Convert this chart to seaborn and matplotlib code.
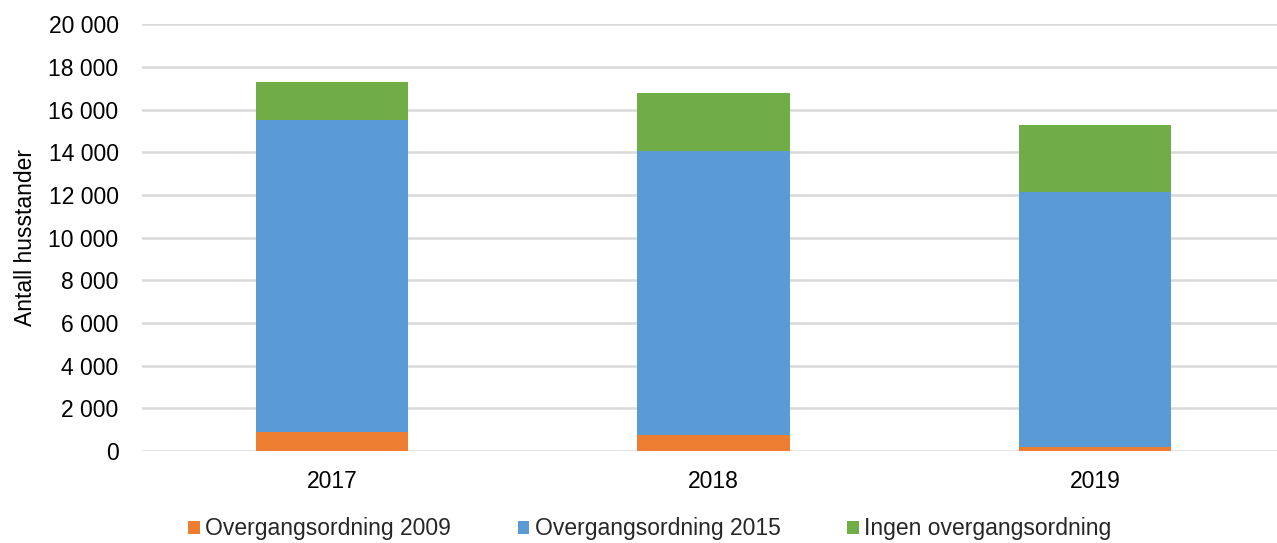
import matplotlib
matplotlib.use("Agg")
import matplotlib.pyplot as plt
import matplotlib.ticker as mticker
from matplotlib.patches import Patch
import seaborn as sns
import pandas as pd
import numpy as np

years = ["2017", "2018", "2019"]
series_names = ["Overgangsordning 2009", "Overgangsordning 2015", "Ingen overgangsordning"]
ovg_2009 = [890, 770, 200]
ovg_2015 = [14610, 13280, 11930]
ingen = [1780, 2720, 3140]
colors = ["#ED7D31", "#5B9BD5", "#70AD47"]
y_ticks = [0, 2000, 4000, 6000, 8000, 10000, 12000, 14000, 16000, 18000, 20000]

sns.set_theme(style="white")
plt.rcParams["font.family"] = ["Liberation Sans", "DejaVu Sans"]

fig = plt.figure(figsize=(12.77, 5.43), dpi=100)
ax = fig.add_axes([141.5 / 1277, 92 / 543, 1144 / 1277, (451 - 24.3) / 543])

stack = np.cumsum(np.array([ovg_2009, ovg_2015, ingen]), axis=0)
# draw tallest first so lower segments overlay
for i in [2, 1, 0]:
    df = pd.DataFrame({"year": years, "value": stack[i]})
    sns.barplot(data=df, x="year", y="value", color=colors[i], width=0.4,
                saturation=1, ax=ax, edgecolor="none", linewidth=0, zorder=3)

ax.set_ylim(0, 20000)
ax.set_xlim(-0.5, 2.5)
ax.set_yticks(y_ticks)
ax.yaxis.set_major_formatter(mticker.FuncFormatter(lambda v, p: f"{int(v):,}".replace(",", " ")))
ax.grid(axis="y", color="#D9D9D9", linewidth=1.8, zorder=0)
ax.grid(axis="x", visible=False)
for s in ax.spines.values():
    s.set_visible(False)
ax.tick_params(axis="both", length=0, labelsize=16.5, colors="black")
ax.tick_params(axis="y", pad=16.5)
ax.tick_params(axis="x", pad=13.5)
ax.set_xlabel("")
ax.set_ylabel("Antall husstander", fontsize=16.5, color="black", labelpad=8.5)

handles = [Patch(facecolor=c, edgecolor="none") for c in colors]
fig.legend(handles, series_names, loc="center", bbox_to_anchor=(650 / 1277, 14 / 543),
           ncol=3, frameon=False, fontsize=16.5, handlelength=0.5, handleheight=0.5,
           handletextpad=0.25, columnspacing=2.9, borderaxespad=0)

fig.savefig("out.png", dpi=100)
